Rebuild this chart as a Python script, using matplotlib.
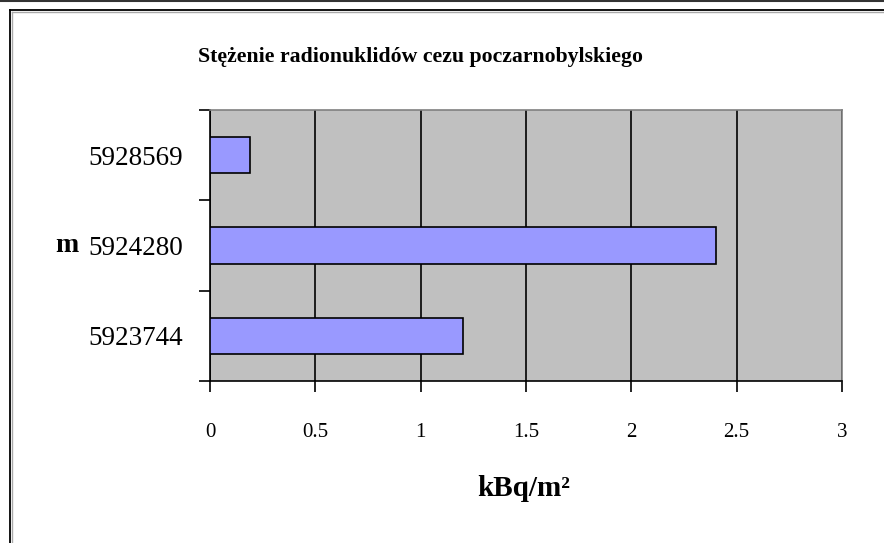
import matplotlib
matplotlib.use('Agg')
import matplotlib.pyplot as plt
from matplotlib.lines import Line2D
from matplotlib.ticker import FixedLocator

# Data
categories = ['5923744', '5924280', '5928569']
values = [1.2, 2.4, 0.19]
x_ticks = [0, 0.5, 1, 1.5, 2, 2.5, 3]
x_tick_labels = ['0', '0.5', '1', '1.5', '2', '2.5', '3']

title = 'Stężenie radionuklidów cezu poczarnobylskiego'
x_label = 'kBq/m²'
y_label = 'm'

plt.rcParams['font.family'] = ['Liberation Serif', 'DejaVu Serif']

W, H = 884, 543
fig = plt.figure(figsize=(W / 100, H / 100), dpi=100)
fig.patch.set_facecolor('white')

# frame lines of the page
fig.add_artist(Line2D([0, 1], [1 - 1 / H, 1 - 1 / H], color='#333333', lw=1.5, transform=fig.transFigure))
fig.add_artist(Line2D([9.5 / W, 1], [1 - 9.5 / H, 1 - 9.5 / H], color='black', lw=1.3, transform=fig.transFigure))
fig.add_artist(Line2D([9.5 / W, 9.5 / W], [0, 1 - 9.5 / H], color='black', lw=1.3, transform=fig.transFigure))
fig.add_artist(Line2D([11.5 / W, 1], [1 - 11.5 / H, 1 - 11.5 / H], color='#aaaaaa', lw=1, transform=fig.transFigure))
fig.add_artist(Line2D([11.5 / W, 11.5 / W], [0, 1 - 11.5 / H], color='#aaaaaa', lw=1, transform=fig.transFigure))

ax = fig.add_axes([210 / W, 1 - 381 / H, 632 / W, 271 / H])
ax.set_facecolor('#c0c0c0')

ypos = list(range(len(categories)))
ax.barh(ypos, values, height=0.4, color='#9999ff', edgecolor='black', linewidth=1.2, zorder=3)

ax.set_xlim(0, 3)
ax.set_ylim(-0.5, len(categories) - 0.5)

ax.set_xticks(x_ticks)
ax.set_xticklabels(x_tick_labels, fontsize=15)
ax.set_yticks(ypos)
ax.set_yticklabels(categories, fontsize=19.5)
ax.yaxis.set_minor_locator(FixedLocator([-0.5, 0.5, 1.5, 2.5]))

ax.tick_params(axis='x', direction='out', length=8, width=1.2, pad=22.5, color='black')
ax.tick_params(axis='y', which='major', length=0, pad=19.5)
ax.tick_params(axis='y', which='minor', direction='out', length=8, width=1.2, color='black')

ax.grid(axis='x', color='black', linewidth=1.2, zorder=1)
ax.set_axisbelow(True)

for side in ['left', 'bottom']:
    ax.spines[side].set_color('black')
    ax.spines[side].set_linewidth(1.2)
for side in ['top', 'right']:
    ax.spines[side].set_color('#808080')
    ax.spines[side].set_linewidth(1.2)

ax.set_xlabel(x_label, fontsize=21, fontweight='bold')
ax.xaxis.set_label_coords(0.497, (381 - 488) / 271)
ax.xaxis.label.set_va('center')
ax.set_ylabel(y_label, fontsize=20, fontweight='bold', rotation=0, va='center', ha='center')
ax.yaxis.set_label_coords((67 - 210) / 632, (381 - 246) / 271)

fig.text(420 / W, 1 - 57 / H, title, fontsize=15.7, fontweight='bold', ha='center', va='center')

fig.savefig('out.png', dpi=100)
